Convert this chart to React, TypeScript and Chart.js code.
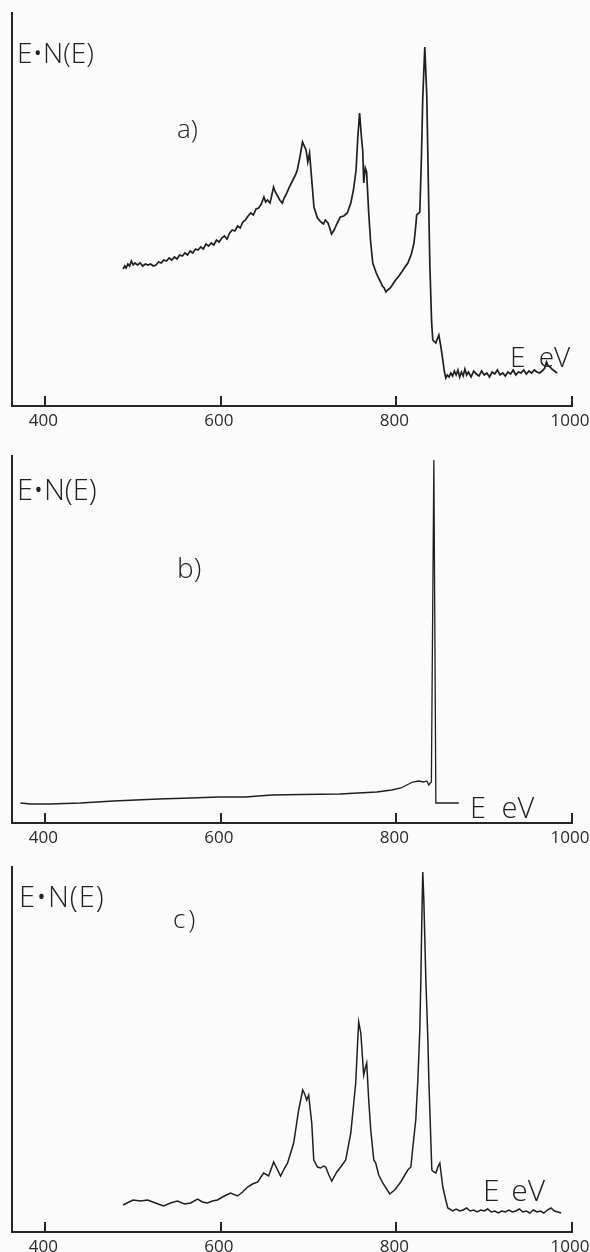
import React, { useEffect, useRef } from 'react';
import { Chart, registerables } from 'chart.js';

Chart.register(...registerables);

// ---- shared axis ----
const X_TICKS = [400, 600, 800, 1000];
const X_MIN = 362;
const X_MAX = 1000;

// ---- panel a) ----
const energyA = [
  488.6, 490.5, 492, 494, 496, 498, 500, 502, 505, 508, 511, 514, 517, 520, 523, 526, 529, 532, 535, 538,
  541, 544, 547, 550, 553, 556, 559, 562, 565, 568, 571, 574, 577, 580, 583, 586, 589, 592, 595, 598,
  601, 604, 607, 610, 613, 616, 619, 622, 625, 628, 631, 634, 637, 640, 643, 646, 649, 651, 653, 656,
  660, 662, 664, 667, 670, 672, 674, 678, 682, 685, 687, 690, 693, 695, 697, 699, 701, 703.5, 706, 710,
  714, 717, 719, 722, 724, 726, 729, 732, 736, 740, 744, 748, 751, 754, 756, 758, 760, 761.6, 762.7, 764.5,
  766, 768.4, 770.5, 773, 775, 777, 779, 782, 784, 786, 788, 790, 793, 796, 799, 802, 806, 809, 813, 817,
  820, 822, 823, 826.6, 828.5, 830, 832.3, 834.6, 836.3, 838, 840, 841.4, 844.8, 846.5, 848.3, 850.5, 852.8, 854.5, 856.2, 858,
  860, 862, 864, 866, 868, 870, 872, 874, 876, 878, 880, 882, 885, 888, 891, 894, 897, 900, 903, 906,
  909, 912, 915, 918, 921, 924, 927, 930, 933, 936, 939, 942, 945, 948, 951, 954, 957, 960, 963, 966,
  969, 971, 973, 975, 977, 980, 983,
];
const signalA = [
  137, 140, 138, 142, 140, 145, 141, 143, 141, 143, 140, 142, 141, 142, 140, 141, 144, 143, 146, 145,
  148, 146, 149, 147, 151, 150, 153, 151, 155, 153, 157, 156, 159, 157, 162, 160, 163, 161, 166, 164,
  168, 170, 167, 173, 176, 175, 180, 178, 184, 186, 190, 193, 191, 197, 198, 202, 209, 204, 206, 203,
  219, 214, 211, 206, 203, 208, 211, 219, 226, 231, 236, 249, 264, 260, 256, 244, 253, 226, 199, 188,
  184, 182, 186, 183, 178, 172, 176, 182, 189, 190, 193, 203, 216, 236, 269, 293, 270, 255, 223, 238,
  234, 193, 165, 143, 138, 133, 129, 124, 120, 118, 114, 116, 118, 122, 126, 129, 134, 138, 143, 152,
  163, 180, 191, 194, 250, 309, 359, 309, 225, 143, 85, 66, 63, 67, 71, 60, 46, 35, 28, 31,
  29, 33, 30, 35, 31, 36, 29, 34, 30, 37, 31, 34, 29, 35, 32, 30, 35, 31, 33, 29,
  34, 32, 36, 31, 33, 30, 34, 32, 36, 31, 34, 33, 36, 32, 35, 33, 36, 34, 33, 35,
  38, 44, 40, 39, 37, 35, 33,
];

// ---- panel b) ----
const energyB = [
  371.6, 383, 404.7, 440, 477.6, 529, 565.5, 597.4, 628, 657.8, 690.8, 735.4, 777.6, 794.7, 805, 811.7, 818.7, 825.3, 831, 834.6,
  836.9, 838.6, 839.8, 842.6, 844.9, 871,
];
const signalB = [
  20, 19, 19, 20, 22, 24, 25, 26, 26, 28, 28.5, 29, 31, 33, 35, 38, 41, 42, 41, 42,
  38, 40, 41, 363, 20, 20,
];

// ---- panel c) ----
const energyC = [
  488.6, 493, 500, 508.5, 516.4, 525.5, 534.6, 542.6, 550.6, 558.6, 565.5, 573.4, 579, 584.7, 590.4, 596, 604, 611, 619, 624.7,
  630.4, 636, 642, 648.7, 654.4, 660.1, 664.6, 668, 672.6, 676, 682.9, 688.6, 693.2, 695.5, 697.7, 700, 703.5, 705.8, 710, 713.7,
  717, 719.4, 723, 726.3, 732, 736.5, 742.2, 748, 753.6, 755.9, 757, 759.4, 762.7, 764.5, 766.1, 768.4, 770.7, 774.2, 776.4, 779.8,
  784.4, 792.4, 798, 804.9, 812.9, 816.4, 818.7, 822, 824.4, 826.6, 827.8, 828.9, 830, 831.2, 833.5, 835.8, 836.9, 840.3, 842.6, 844.9,
  847.2, 849.4, 852.8, 856.2, 858.5, 864.2, 868, 872, 876, 880, 884, 888, 892, 896, 900, 904, 908, 912, 916, 920,
  924, 928, 932, 936, 940, 944, 948, 952, 956, 960, 964, 968, 972, 976, 980, 984, 987.6,
];
const signalC = [
  27, 29, 32, 31, 32, 29, 26, 29, 31, 28, 29, 33, 30, 29, 31, 32, 36, 39, 36, 40,
  45, 48, 50, 59, 56, 70, 62, 56, 64, 69, 89, 122, 142, 138, 132, 137, 109, 72, 65, 64,
  66, 65, 57, 51, 60, 65, 72, 99, 149, 192, 210, 199, 157, 164, 169, 132, 102, 72, 69, 57,
  49, 38, 42, 50, 62, 65, 85, 112, 152, 202, 252, 312, 360, 332, 252, 192, 152, 62, 60, 59,
  65, 69, 45, 32, 24, 21, 23, 21, 22, 24, 21, 22, 20, 22, 21, 23, 20, 21, 19, 21,
  20, 22, 20, 21, 23, 20, 21, 19, 22, 20, 21, 19, 22, 24, 21, 20, 19,
];

const INK = '#1f1f1f';
const AXIS = '#262626';
const BG = '#fbfbfb';

// tick marks pointing up into the plot, placed by the x scale
const innerTicks = {
  id: 'innerTicks',
  afterDraw(chart: any) {
    const s = chart.scales.x;
    const ctx = chart.ctx;
    ctx.save();
    ctx.strokeStyle = AXIS;
    ctx.lineWidth = 2;
    s.ticks.forEach((t: any) => {
      const px = Math.round(s.getPixelForValue(t.value));
      ctx.beginPath();
      ctx.moveTo(px, s.top);
      ctx.lineTo(px, s.top - 10);
      ctx.stroke();
    });
    ctx.restore();
  },
};

type PanelProps = {
  energies: number[];
  values: number[];
  yMax: number;
  top: number;
  height: number;
  padTop: number;
  axisH: number;
  lineWidth: number;
};

function Panel({ energies, values, yMax, top, height, padTop, axisH, lineWidth }: PanelProps) {
  const ref = useRef<HTMLCanvasElement | null>(null);
  useEffect(() => {
    if (!ref.current) return;
    const chart = new Chart(ref.current, {
      type: 'line',
      data: {
        datasets: [
          {
            data: energies.map((e, i) => ({ x: e, y: values[i] })),
            borderColor: INK,
            borderWidth: lineWidth,
            pointRadius: 0,
            tension: 0,
            fill: false,
          },
        ],
      },
      options: {
        animation: false,
        responsive: false,
        devicePixelRatio: 1,
        layout: { padding: { left: 12, right: 18, top: padTop, bottom: 0 } },
        plugins: { legend: { display: false }, tooltip: { enabled: false }, title: { display: false } },
        scales: {
          x: {
            type: 'linear',
            min: X_MIN,
            max: X_MAX,
            afterBuildTicks: (s: any) => {
              s.ticks = X_TICKS.map((v) => ({ value: v }));
            },
            afterFit: (s: any) => {
              s.height = axisH;
              s.paddingLeft = 0;
              s.paddingRight = 0;
            },
            grid: { display: false, drawTicks: false },
            border: { display: true, color: AXIS, width: 2 },
            ticks: {
              padding: 5,
              color: '#2a2a2a',
              font: { family: 'Open Sans', size: 17 },
              maxRotation: 0,
              autoSkip: false,
              labelOffset: -2,
              callback: (v: any) => String(v),
            },
          },
          y: {
            type: 'linear',
            min: 0,
            max: yMax,
            afterFit: (s: any) => {
              s.width = 0;
            },
            grid: { display: false, drawTicks: false },
            ticks: { display: false },
            border: { display: true, color: AXIS, width: 2 },
          },
        },
      },
      plugins: [innerTicks],
    } as any);
    return () => chart.destroy();
  }, []);
  return (
    <canvas
      ref={ref}
      width={590}
      height={height}
      style={{ position: 'absolute', left: 0, top, width: 590, height, display: 'block' }}
    />
  );
}

type LabelProps = { text: string; left: number; baseline: number; size: number; wordSpacing?: number; letterSpacing?: number };

function Label({ text, left, baseline, size, wordSpacing = 0, letterSpacing = 0 }: LabelProps) {
  return (
    <div
      style={{
        position: 'absolute',
        left,
        top: baseline - 0.888 * size,
        fontFamily: '"Open Sans", "DejaVu Sans", sans-serif',
        fontWeight: 300,
        fontSize: size,
        lineHeight: 1,
        color: '#222',
        whiteSpace: 'pre',
        wordSpacing,
        letterSpacing,
      }}
    >
      {text}
    </div>
  );
}

export default function App() {
  useEffect(() => {
    document.body.style.margin = '0';
    document.body.style.background = BG;
  }, []);
  return (
    <div style={{ position: 'relative', width: 590, height: 1252, overflow: 'hidden', background: BG }}>
      <Panel energies={energyA} values={signalA} yMax={393} top={0} height={430} padTop={13} axisH={24} lineWidth={1.7} />
      <Panel energies={energyB} values={signalB} yMax={367} top={430} height={417} padTop={26} axisH={24} lineWidth={1.3} />
      <Panel energies={energyC} values={signalC} yMax={365} top={847} height={405} padTop={20} axisH={20} lineWidth={1.5} />

      <Label text="E•N(E)" left={17} baseline={63} size={28} />
      <Label text="a)" left={177} baseline={138} size={26} />
      <Label text="E eV" left={510} baseline={367} size={28} wordSpacing={6} />

      <Label text="E•N(E)" left={17} baseline={500} size={29} />
      <Label text="b)" left={177} baseline={578} size={28} />
      <Label text="E eV" left={470} baseline={818} size={29} wordSpacing={8} />

      <Label text="E•N(E)" left={19} baseline={907} size={29} letterSpacing={1} />
      <Label text="c)" left={173} baseline={928} size={26} letterSpacing={3} />
      <Label text="E eV" left={483} baseline={1202} size={30} wordSpacing={4} />
    </div>
  );
}
